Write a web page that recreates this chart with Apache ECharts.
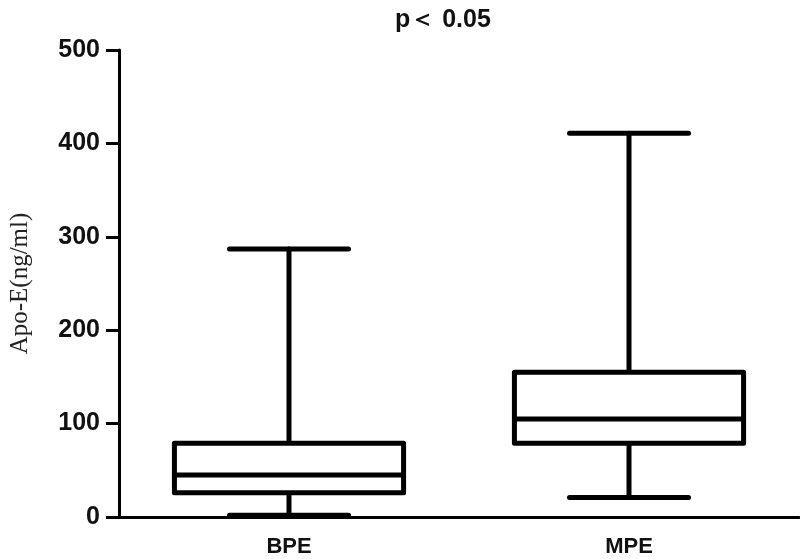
<!DOCTYPE html>
<html>
<head>
<meta charset="utf-8">
<script src="https://cdn.jsdelivr.net/npm/echarts@6/dist/echarts.min.js"></script>
<style>
  html, body { margin: 0; padding: 0; background: #fff; }
  #main_container { width: 800px; height: 559px; }
</style>
</head>
<body>
<div id="main_container"></div>
<script>
// groups on the x axis
var categories = ["BPE", "MPE"];
// five-number summary per group
var minValues = [2, 21];
var q1Values = [26, 79];
var medianValues = [45, 105];
var q3Values = [79, 155];
var maxValues = [287, 411];
var yTicks = [0, 100, 200, 300, 400, 500];

var boxData = categories.map(function (c, i) {
  return [i, minValues[i], q1Values[i], medianValues[i], q3Values[i], maxValues[i]];
});

var tickFont = "Liberation Sans, Arial, sans-serif";

// 初始化echarts实例
var myChart = echarts.init(document.getElementById("main_container"));

function renderBox(params, api) {
  var idx = api.value(0);
  var pMin = api.coord([idx, api.value(1)]);
  var pQ1 = api.coord([idx, api.value(2)]);
  var pMed = api.coord([idx, api.value(3)]);
  var pQ3 = api.coord([idx, api.value(4)]);
  var pMax = api.coord([idx, api.value(5)]);
  var band = api.size([1, 0])[0];
  var half = band * 0.337;
  var cap = band * 0.175;
  var cx = pMed[0];
  var style = { stroke: "#000", lineWidth: 5, fill: null, lineCap: "round", lineJoin: "round" };
  return {
    type: "group",
    children: [
      { type: "line", shape: { x1: cx, y1: pQ3[1], x2: cx, y2: pMax[1] }, style: style },
      { type: "line", shape: { x1: cx, y1: pQ1[1], x2: cx, y2: pMin[1] }, style: style },
      { type: "line", shape: { x1: cx - cap, y1: pMax[1], x2: cx + cap, y2: pMax[1] }, style: style },
      { type: "line", shape: { x1: cx - cap, y1: pMin[1], x2: cx + cap, y2: pMin[1] }, style: style },
      {
        type: "rect",
        shape: { x: cx - half, y: pQ3[1], width: half * 2, height: pQ1[1] - pQ3[1] },
        style: { stroke: "#000", lineWidth: 5, fill: "#fff", lineJoin: "round" }
      },
      { type: "line", shape: { x1: cx - half, y1: pMed[1], x2: cx + half, y2: pMed[1] }, style: style }
    ]
  };
}

myChart.setOption({
  animation: false,
  backgroundColor: "#fff",
  title: {
    text: "p＜ 0.05",
    left: 390,
    top: 3,
    textStyle: { fontFamily: tickFont, fontWeight: "bold", fontSize: 25, color: "#111" }
  },
  grid: { left: 100, right: 1, top: 50, bottom: 42, containLabel: false },
  xAxis: {
    type: "category",
    data: categories,
    boundaryGap: true,
    axisLine: { lineStyle: { color: "#000", width: 3 } },
    axisTick: { alignWithLabel: true, length: 8, lineStyle: { color: "#000", width: 3 } },
    axisLabel: { color: "#111", fontFamily: tickFont, fontWeight: "bold", fontSize: 22, margin: 19 },
    splitLine: { show: false }
  },
  yAxis: {
    type: "value",
    min: yTicks[0],
    max: yTicks[yTicks.length - 1],
    interval: 100,
    name: "Apo-E(ng/ml)",
    nameLocation: "middle",
    nameRotate: 90,
    nameGap: 86,
    nameTextStyle: { fontFamily: "Liberation Serif, Times New Roman, serif", fontSize: 25, color: "#222" },
    axisLine: { show: true, lineStyle: { color: "#000", width: 3 } },
    axisTick: { show: true, length: 13, lineStyle: { color: "#000", width: 3 } },
    axisLabel: { color: "#111", fontFamily: tickFont, fontWeight: "bold", fontSize: 25, margin: 19 },
    splitLine: { show: false }
  },
  series: [
    {
      type: "custom",
      name: "Apo-E",
      renderItem: renderBox,
      encode: { x: 0, y: [1, 2, 3, 4, 5] },
      data: boxData
    }
  ]
});
</script>
</body>
</html>
